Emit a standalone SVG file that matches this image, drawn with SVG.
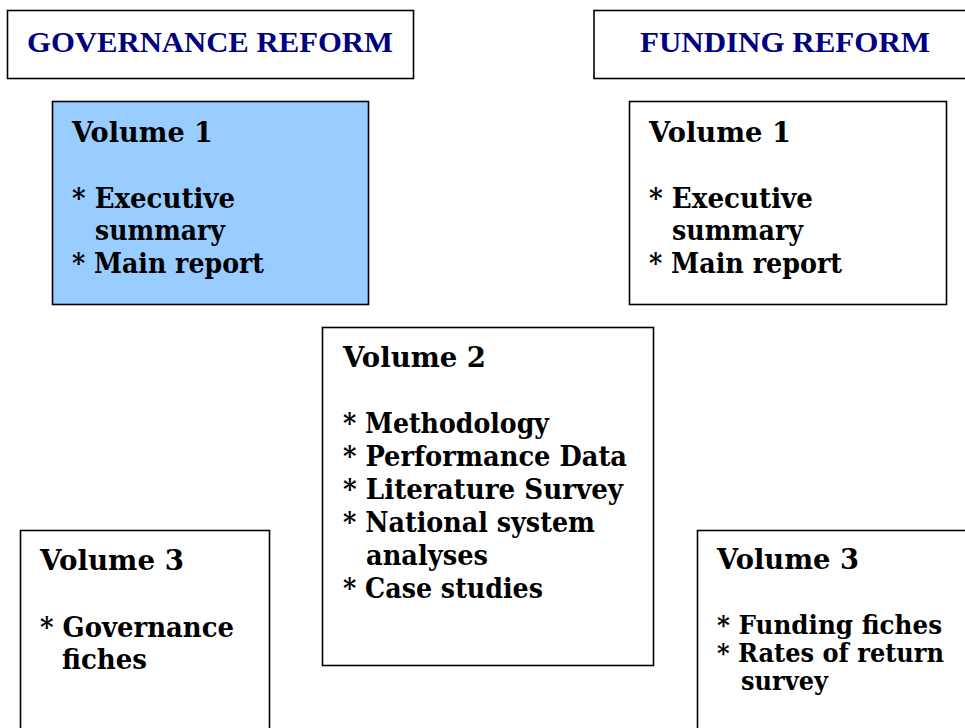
<svg xmlns="http://www.w3.org/2000/svg" width="965" height="728" viewBox="0 0 965 728">
<style>
.box{fill:#fff;stroke:#000;stroke-width:1.6}
.blue{fill:#99CCFF}
.hdr{font-family:"Liberation Serif","DejaVu Serif",serif;font-weight:bold;font-size:30px;fill:#000080}
.t{font-family:"DejaVu Serif","Liberation Serif",serif;font-weight:bold;font-size:28px;fill:#000}
.s{font-size:26px}
</style>
<rect width="965" height="728" fill="#fff"/>
<g id="governance-reform">
<rect class="box" x="7.5" y="10.5" width="406" height="68"/>
<text class="hdr" x="27" y="52" textLength="366" lengthAdjust="spacingAndGlyphs">GOVERNANCE REFORM</text>
</g>
<g id="funding-reform">
<rect class="box" x="594" y="10.5" width="380" height="68"/>
<text class="hdr" x="640" y="52" textLength="290" lengthAdjust="spacingAndGlyphs">FUNDING REFORM</text>
</g>
<g id="gov-volume1">
<rect class="box blue" x="52.5" y="101.5" width="316" height="203"/>
<text class="t" x="72" y="142" textLength="141" lengthAdjust="spacingAndGlyphs">Volume 1</text>
<text class="t" x="72" y="208" textLength="163" lengthAdjust="spacingAndGlyphs">* Executive</text>
<text class="t" x="95" y="240" textLength="130" lengthAdjust="spacingAndGlyphs">summary</text>
<text class="t" x="72" y="273" textLength="192" lengthAdjust="spacingAndGlyphs">* Main report</text>
</g>
<g id="fund-volume1">
<rect class="box" x="629.5" y="101.5" width="317" height="203"/>
<text class="t" x="649" y="142" textLength="142" lengthAdjust="spacingAndGlyphs">Volume 1</text>
<text class="t" x="649" y="208" textLength="164" lengthAdjust="spacingAndGlyphs">* Executive</text>
<text class="t" x="672" y="240" textLength="131" lengthAdjust="spacingAndGlyphs">summary</text>
<text class="t" x="649" y="273" textLength="193" lengthAdjust="spacingAndGlyphs">* Main report</text>
</g>
<g id="volume2">
<rect class="box" x="322.5" y="327.5" width="331" height="338"/>
<text class="t" x="343" y="367" textLength="143" lengthAdjust="spacingAndGlyphs">Volume 2</text>
<text class="t" x="343" y="433" textLength="206" lengthAdjust="spacingAndGlyphs">* Methodology</text>
<text class="t" x="343" y="466" textLength="284" lengthAdjust="spacingAndGlyphs">* Performance Data</text>
<text class="t" x="343" y="499" textLength="280" lengthAdjust="spacingAndGlyphs">* Literature Survey</text>
<text class="t" x="343" y="532" textLength="252" lengthAdjust="spacingAndGlyphs">* National system</text>
<text class="t" x="366" y="565" textLength="122" lengthAdjust="spacingAndGlyphs">analyses</text>
<text class="t" x="343" y="598" textLength="200" lengthAdjust="spacingAndGlyphs">* Case studies</text>
</g>
<g id="gov-volume3">
<rect class="box" x="20.5" y="530.5" width="249" height="210"/>
<text class="t" x="40" y="570" textLength="144" lengthAdjust="spacingAndGlyphs">Volume 3</text>
<text class="t" x="40" y="637" textLength="194" lengthAdjust="spacingAndGlyphs">* Governance</text>
<text class="t" x="62" y="669" textLength="85" lengthAdjust="spacingAndGlyphs">fiches</text>
</g>
<g id="fund-volume3">
<rect class="box" x="697.5" y="530.5" width="280" height="210"/>
<text class="t" x="717" y="569" textLength="142" lengthAdjust="spacingAndGlyphs">Volume 3</text>
<text class="t s" x="717" y="634" textLength="225" lengthAdjust="spacingAndGlyphs">* Funding fiches</text>
<text class="t s" x="717" y="662" textLength="227" lengthAdjust="spacingAndGlyphs">* Rates of return</text>
<text class="t s" x="741" y="690" textLength="87" lengthAdjust="spacingAndGlyphs">survey</text>
</g>
<g id="connectors"/>
</svg>
